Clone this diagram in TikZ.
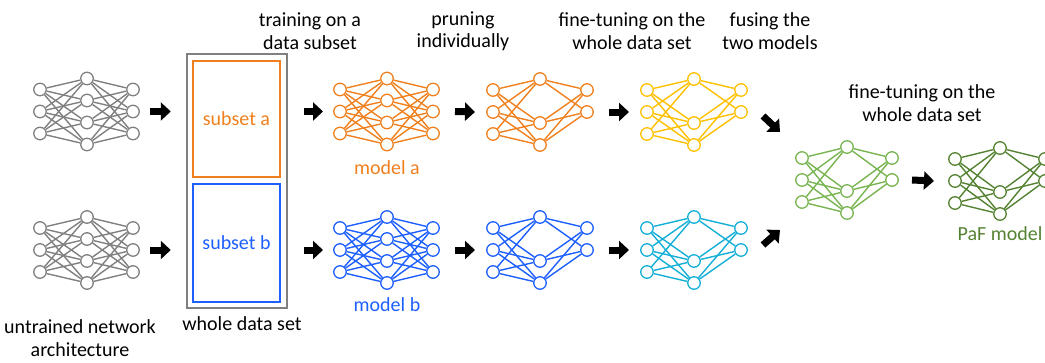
\documentclass[tikz,border=0pt]{standalone}
\usepackage{fontspec}
\setmainfont{Carlito}
\usepackage{tikz}
\usetikzlibrary{calc}
\usetikzlibrary{positioning}
\usetikzlibrary{arrows.meta}

\definecolor{netgray}{RGB}{128,128,128}
\definecolor{aorange}{RGB}{240,128,30}
\definecolor{bblue}{RGB}{30,95,255}
\definecolor{ayellow}{RGB}{255,192,0}
\definecolor{bcyan}{RGB}{20,175,215}
\definecolor{lgreen}{RGB}{120,180,80}
\definecolor{dgreen}{RGB}{85,130,50}

\tikzset{
	neuron/.style={circle, draw, line width=1.3pt, minimum size=12.5pt, inner sep=0pt},
	synapse/.style={line width=1.4pt},
	fatarrow/.style={line width=7pt, -{Triangle[length=10pt,width=18pt]}},
	caption/.style={align=center, inner sep=2pt, font=\fontsize{20}{22.5}\selectfont},
	subsetbox/.style={draw, line width=1.8pt, minimum width=87pt, font=\fontsize{20}{22.5}\selectfont},
}

% full net: name, x of inputs, y centre, colour
\newcommand{\fullnet}[4]{
	\foreach \k/\dy in {1/-22,2/0,3/22} {
		\node[neuron, #4] (#1-i\k) at (#2, #3+\dy) {};
		\node[neuron, #4] (#1-o\k) at (#2+93, #3+\dy) {};
	}
	\foreach \k/\dy in {1/-33,2/-11,3/11,4/33}
		\node[neuron, #4] (#1-h\k) at (#2+47, #3+\dy) {};
	\foreach \a in {1,2,3}
		\foreach \b in {1,2,3,4} {
			\draw[synapse, #4] (#1-i\a) -- (#1-h\b);
			\draw[synapse, #4] (#1-h\b) -- (#1-o\a);
		}
}

% pruned net: name, x of inputs, y centre, colour, layer gap
\newcommand{\prunednet}[5]{
	\foreach \k/\dy in {1/-22,2/0,3/22}
		\node[neuron, #4] (#1-i\k) at (#2, #3+\dy) {};
	\foreach \k/\dy in {1/-33,3/11,4/33}
		\node[neuron, #4] (#1-h\k) at (#2+#5, #3+\dy) {};
	\foreach \k/\dy in {1/-22,2/0}
		\node[neuron, #4] (#1-o\k) at (#2+2*#5, #3+\dy) {};
	\foreach \b in {1,3,4} {
		\foreach \a in {1,2,3}
			\draw[synapse, #4] (#1-i\a) -- (#1-h\b);
		\foreach \a in {1,2}
			\draw[synapse, #4] (#1-h\b) -- (#1-o\a);
	}
}

\begin{document}
\begin{tikzpicture}[x=1pt, y=-1pt]
	\useasboundingbox (0,0) rectangle (1045,362);

	\fullnet{gT}{40}{111.5}{netgray}
	\fullnet{gB}{40}{250}{netgray}
	\fullnet{oF}{340}{111.5}{aorange}
	\fullnet{bF}{340}{250}{bblue}
	\prunednet{oP}{493}{112}{aorange}{47}
	\prunednet{bP}{493}{250}{bblue}{47}
	\prunednet{yP}{647}{112}{ayellow}{47}
	\prunednet{cP}{647}{250}{bcyan}{47}
	\prunednet{gP}{802}{180}{lgreen}{45}
	\prunednet{dP}{955}{181}{dgreen}{45}

	% data set
	\node[draw=netgray, line width=2.5pt, minimum width=100pt, minimum height=254pt] (dat) at (237,181) {};
	\node[subsetbox, draw=aorange, text=aorange, minimum height=116pt] (subA) at (236.5,119) {subset a};
	\node[subsetbox, draw=bblue, text=bblue, minimum height=118pt] (subB) at (236.5,243) {subset b};

	% labels
	\node[caption] (train) at (310,31) {training on a\\data subset};
	\node[caption] (prune) at (463,31) {pruning\\individually};
	\node[caption] (tune1) at (632,31) {fine-tuning on the\\whole data set};
	\node[caption] (fuse) at (770,31) {fusing the\\two models};
	\node[caption] (tune2) at (922,103) {fine-tuning on the\\whole data set};
	\node[caption] (untr) at (80,338) {untrained network\\architecture};
	\node[caption, below=5pt of dat, xshift=5pt] (whole) {whole data set};
	\node[caption, text=aorange, below=7pt of oF-h4] (modA) {model a};
	\node[caption, text=bblue, below=6pt of bF-h4] (modB) {model b};
	\node[caption, text=dgreen, below=4pt of dP-h4] (paf) {PaF model};

	% arrows
	\draw[fatarrow] ($(gT-o2)+(17,0)$) -- ($(dat.west |- gT-o2)+(-15,0)$);
	\draw[fatarrow] ($(gB-o2)+(17,0)$) -- ($(dat.west |- gB-o2)+(-15,0)$);
	\draw[fatarrow] ($(dat.east |- oF-i2)+(16,0)$) -- ($(oF-i2)+(-17,0)$);
	\draw[fatarrow] ($(dat.east |- bF-i2)+(16,0)$) -- ($(bF-i2)+(-17,0)$);
	\draw[fatarrow] ($(oF-o2)+(22,0)$) -- ($(oP-i2)+(-18,0)$);
	\draw[fatarrow] ($(bF-o2)+(22,0)$) -- ($(bP-i2)+(-18,0)$);
	\draw[fatarrow] ($(oP-o2)+(22,0)$) -- ($(yP-i2)+(-18,0)$);
	\draw[fatarrow] ($(bP-o2)+(22,0)$) -- ($(cP-i2)+(-18,0)$);
	\draw[fatarrow] ($(yP-o2)+(22,4)$) -- ($(gP-i1)+(-22,-26)$);
	\draw[fatarrow] ($(cP-o2)+(22,-5)$) -- ($(gP-i3)+(-22,28)$);
	\draw[fatarrow] ($(gP-o2)+(20,0)$) -- ($(dP-i2)+(-21,0)$);
\end{tikzpicture}
\end{document}
